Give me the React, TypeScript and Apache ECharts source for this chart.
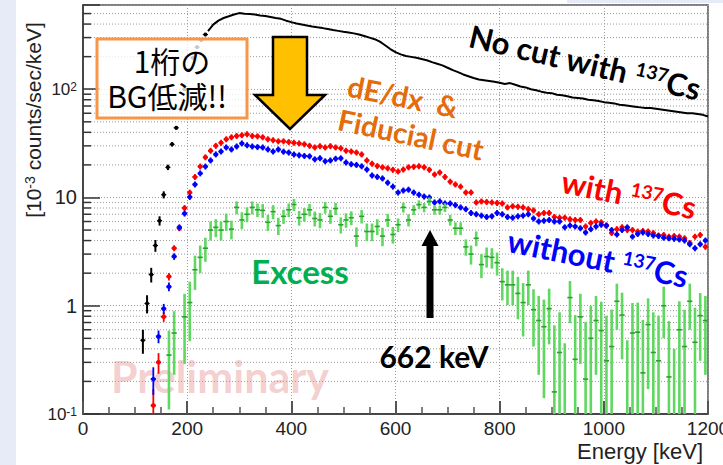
import React, { useEffect, useRef } from 'react';
import * as echarts from 'echarts';

// ---------- data ----------
const binStart = 135;
const binWidth = 10;

const withCsVals = [
  0.12, 0.30, 0.79, 1.86, 3.4, 5.2, 8.0, 11.1, 15.5, 19.3,
  23.5, 27, 30, 32, 34.5, 36, 37, 37.6, 38.4, 37,
  36.7, 36, 34.5, 33.8, 33, 33, 32.5, 32, 31.6, 31,
  30, 29, 29.8, 29, 29.8, 29, 28.5, 27, 26.6, 26,
  25, 22, 20.5, 19.5, 19, 18.6, 18, 17.4, 18.1, 19,
  19.2, 19.4, 19, 18, 16.3, 17, 15.5, 14, 13.2, 12.6,
  11.1, 11.1, 9.0, 9.2, 9.1, 9.0, 8.9, 8.8, 8.1, 8.3,
  8.2, 8.1, 7.8, 7.6, 7.0, 7.2, 7.2, 6.6, 6.5, 6.5,
  6.3, 6.2, 6.2, 5.4, 5.8, 6.0, 5.9, 5.5, 4.7, 5.1,
  5.3, 5.0, 5.0, 4.85, 4.9, 4.85, 4.7, 4.45, 4.5, 4.35,
  4.4, 4.35, 4.2, 3.8, 4.35, 4.5, 3.5,
];
const withCsLowErr = [0.05, 0.065, 0.08, 0.15, 0.2, 0.25];

const withoutCsVals = [
  0.21, 0.52, 0.94, 1.5, 2.85, 5.3, 7.1, 10.1, 13.2, 16.7,
  19.3, 22, 25, 26.6, 29, 27.8, 29.6, 31.6, 30.3, 29.6,
  29.2, 29, 27.8, 26.6, 27.8, 26.5, 26, 25, 24.5, 24.2,
  24, 22.5, 23, 21.6, 22, 22.8, 23, 21, 20.3, 20,
  19.4, 18.1, 16, 15.5, 15, 13.7, 12.6, 11.1, 11.6, 11.8,
  11.1, 10.6, 10.2, 10, 9.0, 9.2, 8.8, 8.8, 8.5, 8.1,
  7.8, 7.2, 7.0, 6.8, 6.6, 6.7, 7.2, 7.0, 6.6, 6.5,
  6.7, 6.8, 7.0, 6.4, 6.0, 6.1, 6.2, 6.0, 6.0, 5.3,
  5.5, 5.4, 5.2, 4.75, 5.1, 5.4, 5.6, 5.5, 5.0, 4.55,
  5.0, 5.3, 4.35, 4.6, 4.75, 4.6, 4.45, 4.4, 4.25, 4.2,
  4.15, 4.1, 4.0, 3.7, 3.4, 3.7, 4.0,
];
const withoutCsLowErr = [0.06, 0.07, 0.1, 0.14, 0.2, 0.25];

const excessEnergy = [
  165, 175, 195, 205, 215, 225, 235, 245, 255, 265, 275, 285, 295, 305, 315, 325, 335, 345, 355, 365,
  375, 385, 395, 405, 415, 425, 435, 445, 455, 465, 475, 485, 495, 505, 515, 525, 535, 545, 555, 565,
  575, 585, 595, 605, 615, 625, 635, 645, 655, 665, 675, 685, 695, 705, 715, 725, 735, 745, 755, 765,
  775, 785, 795, 805, 815, 825, 835, 845, 855, 865, 875, 885, 895, 905, 915, 925, 935, 945, 955, 965,
  975, 985, 995, 1005, 1015, 1025, 1035, 1045, 1055, 1065, 1075, 1085, 1095, 1105, 1115, 1125, 1135, 1145, 1155, 1165,
  1175, 1185, 1195,
];
const excessVals = [
  0.35, 0.56, 0.79, 1.07, 2.15, 2.8, 3.4, 5.0, 5.3, 5.0, 6.0, 5.1, 8.1, 6.2, 7.0, 8.1, 7.7, 7.6, 5.9, 7.4,
  5.5, 6.7, 7.7, 8.6, 6.5, 7.0, 7.7, 6.4, 6.2, 8.1, 6.7, 7.9, 5.6, 6.2, 6.5, 4.4, 6.7, 4.85, 4.85, 5.4,
  4.4, 6.2, 4.55, 5.6, 8.1, 6.2, 7.7, 8.6, 8.1, 9.2, 7.7, 7.7, 8.1, 6.2, 5.2, 5.2, 3.5, 3.0, 4.2, 2.4,
  2.85, 2.8, 2.5, 1.67, 1.56, 1.56, 1.3, 1.07, 1.56, 0.92, 0.73, 0.64, 0.94, 0.16, 0.37, -0.05, 1.19, 0.32, 0.79, 0.21,
  0.5, 0.73, 0.59, 0.31, 0.42, 1.1, 0.82, -0.02, 0.56, 0.57, 0.24, 0.67, 0.37, 0.31, 1.0, 0.22, -0.1, 0.6, 0.42, 1.1,
  0.46, 0.81, 0.73,
];
const excessErr = [
  0.24, 0.33, 0.5, 0.6, 0.75, 0.8, 0.85, 1.0, 1.0, 1.0, 1.1, 1.0, 1.1, 1.1, 1.1, 1.1, 1.1, 1.1, 1.0, 1.1,
  1.0, 1.0, 1.1, 1.1, 1.0, 1.0, 1.0, 1.0, 1.0, 1.0, 1.0, 1.0, 0.95, 0.95, 0.95, 0.9, 0.95, 0.9, 0.9, 0.9,
  0.85, 0.85, 0.8, 0.8, 0.85, 0.8, 0.8, 0.8, 0.8, 0.8, 0.75, 0.75, 0.75, 0.7, 0.7, 0.7, 0.6, 0.6, 0.65, 0.6,
  0.6, 0.6, 0.6, 0.55, 0.55, 0.55, 0.55, 0.55, 0.55, 0.5, 0.5, 0.5, 0.5, 0.5, 0.5, 0.5, 0.5, 0.5, 0.5, 0.5,
  0.5, 0.5, 0.5, 0.5, 0.5, 0.5, 0.5, 0.5, 0.5, 0.5, 0.5, 0.5, 0.5, 0.5, 0.5, 0.5, 0.5, 0.5, 0.5, 0.5,
  0.5, 0.5, 0.5,
];

const noCutLowEnergy = [115, 123, 131, 139, 147, 155, 163, 171, 179, 187, 195, 203, 211, 219, 227, 235];
const noCutLowVals = [0.48, 1.05, 1.94, 3.6, 6.1, 10.6, 19, 31, 44, 65, 100, 150, 195, 245, 285, 320];
const noCutLowErr = [0.12, 0.2, 0.3, 0.45, 0.6, 0.8, 1.1, 1.4, 1.7, 2, 2.5, 3, 3.5, 4, 4.2, 4.5];

const noCutLineStart = 240;
const noCutLineVals = [
  345, 395, 430, 455, 472, 490, 505, 498, 495, 490,
  480, 474, 465, 455, 447, 430, 417, 405, 397, 388,
  380, 373, 367, 360, 352, 346, 340, 335, 328, 320,
  310, 300, 290, 275, 255, 235, 220, 210, 203, 199,
  195, 190, 185, 178, 172, 166, 158, 150, 144, 137,
  132, 127, 123, 121, 119, 117, 115, 112, 114, 110,
  106, 104, 100, 98, 95, 93, 92, 89, 88, 86,
  84, 83, 82, 80, 79, 78, 76, 75, 74, 72,
  71, 70, 69, 68, 67, 67, 66, 65, 64, 63,
  62, 61, 60, 60, 59, 58, 56,
];

const xTickValues = [0, 200, 400, 600, 800, 1000, 1200];
const yMinorTicks = [
  0.2, 0.3, 0.4, 0.5, 0.6, 0.7, 0.8, 0.9,
  2, 3, 4, 5, 6, 7, 8, 9,
  20, 30, 40, 50, 60, 70, 80, 90,
  200, 300, 400, 500,
];

// ---------- helpers ----------
const X_MIN = xTickValues[0];
const X_MAX = xTickValues[xTickValues.length - 1];
const Y_MIN = 0.1;
const Y_MAX = 600;

function makeErrRenderer(opts: {
  bar: string; mark: string; barWidth: number; markWidth: number; dot: number; minPx: number;
}) {
  return (params: any, api: any) => {
    const e = api.value(0);
    const v = api.value(1);
    const err = api.value(2) || 0;
    const bottomY = api.coord([e, Y_MIN])[1];
    const children: any[] = [];
    const hasCenter = v > 0;
    const cx = api.coord([e, Y_MIN])[0];
    const cy = hasCenter ? api.coord([e, v])[1] : bottomY;
    let top = hasCenter ? cy - opts.minPx : bottomY;
    let bottom = hasCenter ? cy + opts.minPx : bottomY;
    if (err > 0) {
      const hi = api.coord([e, v + err])[1];
      top = Math.min(top, hi);
      const lo = v - err > Y_MIN ? api.coord([e, v - err])[1] : bottomY;
      bottom = Math.max(bottom, lo);
    }
    children.push({
      type: 'line',
      shape: { x1: cx, y1: top, x2: cx, y2: bottom },
      style: { stroke: opts.bar, lineWidth: opts.barWidth },
    });
    if (hasCenter) {
      const l = api.coord([e - binWidth / 2, v])[0];
      const r = api.coord([e + binWidth / 2, v])[0];
      children.push({
        type: 'line',
        shape: { x1: l, y1: cy, x2: r, y2: cy },
        style: { stroke: opts.mark, lineWidth: opts.markWidth },
      });
      if (opts.dot > 0) {
        children.push({
          type: 'circle',
          shape: { cx, cy, r: opts.dot },
          style: { fill: opts.mark },
        });
      }
    }
    return { type: 'group', children };
  };
}

const supLabel = (base: string, exp: string) => `{b|${base}}{s|${exp}}`;

export default function App() {
  const ref = useRef<HTMLDivElement>(null);

  useEffect(() => {
    document.body.style.margin = '0';
    if (!ref.current) return;
    const chart = echarts.init(ref.current, undefined, { renderer: 'svg' });

    const withCsData = withCsVals.map((v, i) => [binStart + i * binWidth, v, withCsLowErr[i] || 0]);
    const withoutCsData = withoutCsVals.map((v, i) => [binStart + i * binWidth, v, withoutCsLowErr[i] || 0]);
    const excessData = excessEnergy.map((e, i) => [e, excessVals[i], excessErr[i], excessVals[i] + excessErr[i]]);
    const noCutLowData = noCutLowEnergy.map((e, i) => [e, noCutLowVals[i], noCutLowErr[i]]);
    const noCutLineData = noCutLineVals.map((v, i) => [noCutLineStart + i * binWidth, v]);
    const gridData = yMinorTicks.map((v) => [X_MIN, v]);

    const axisFont = 'Liberation Sans, Arial, sans-serif';
    const boldFont = 'Lato, "Open Sans", sans-serif';

    const centered = {
      align: 'center',
      verticalAlign: 'middle',
      textAlign: 'center',
      textVerticalAlign: 'middle',
    };

    const csRich = (color: string) => ({
      m: { fontSize: 31, fontWeight: 'bold', fontFamily: boldFont, fill: color, color, verticalAlign: 'bottom' },
      s: { fontSize: 19, fontWeight: 'bold', fontFamily: boldFont, fill: color, color, verticalAlign: 'top' },
    });

    const option: any = {
      animation: false,
      backgroundColor: '#ffffff',
      grid: {
        left: 83,
        right: 15,
        top: 5,
        bottom: 51,
        containLabel: false,
        outerBoundsMode: 'none',
        show: true,
        backgroundColor: '#ffffff',
        borderColor: '#555',
        borderWidth: 1.5,
      },
      xAxis: {
        type: 'value',
        min: X_MIN,
        max: X_MAX,
        interval: 200,
        axisLine: { show: true, onZero: false, lineStyle: { color: '#333', width: 1.5 } },
        axisTick: { show: true, inside: true, length: 13, lineStyle: { color: '#555', width: 2 } },
        minorTick: { show: true, splitNumber: 4, length: 7, lineStyle: { color: '#555', width: 1.5 } },
        splitLine: { show: true, lineStyle: { color: '#9a9a9a', width: 1, type: [1, 2] } },
        axisLabel: {
          color: '#222',
          fontSize: 19,
          fontFamily: axisFont,
          margin: 5,
          formatter: (v: number) => String(v),
        },
      },
      yAxis: {
        type: 'log',
        logBase: 10,
        min: Y_MIN,
        max: Y_MAX,
        axisLine: { show: true, lineStyle: { color: '#333', width: 1.5 } },
        axisTick: { show: true, inside: true, length: 17, lineStyle: { color: '#333', width: 1.5 } },
        splitLine: { show: true, lineStyle: { color: '#9a9a9a', width: 1, type: [1, 2] } },
        axisLabel: {
          margin: 6,
          color: '#222',
          fontFamily: axisFont,
          formatter: (v: number) => {
            if (Math.abs(v - 0.1) < 1e-6) return supLabel('10', '-1');
            if (Math.abs(v - 1) < 1e-6) return '{n|1}';
            if (Math.abs(v - 10) < 1e-6) return '{n|10}';
            if (Math.abs(v - 100) < 1e-4) return supLabel('10', '2');
            return '';
          },
          rich: {
            n: { fontSize: 20, fontFamily: axisFont, color: '#222' },
            b: { fontSize: 17, fontFamily: axisFont, color: '#222', verticalAlign: 'bottom' },
            s: { fontSize: 12, fontFamily: axisFont, color: '#222', verticalAlign: 'top' },
          },
        },
      },
      series: [
        {
          type: 'custom',
          name: 'yGrid',
          silent: true,
          data: gridData,
          encode: { x: 0, y: 1 },
          renderItem: (params: any, api: any) => {
            const v = api.value(1);
            const p0 = api.coord([X_MIN, v]);
            const p1 = api.coord([X_MAX, v]);
            return {
              type: 'group',
              children: [
                {
                  type: 'line',
                  shape: { x1: p0[0] + 8, y1: p0[1], x2: p1[0], y2: p1[1] },
                  style: { stroke: '#9a9a9a', lineWidth: 1, lineDash: [1, 2] },
                },
                {
                  type: 'line',
                  shape: { x1: p0[0], y1: p0[1], x2: p0[0] + 8, y2: p0[1] },
                  style: { stroke: '#333', lineWidth: 1.5 },
                },
              ],
            };
          },
          z: 1,
        },
        {
          type: 'line',
          name: 'No cut with 137Cs',
          data: noCutLineData,
          showSymbol: false,
          symbol: 'none',
          lineStyle: { color: '#000', width: 2 },
          clip: true,
          z: 2,
        },
        {
          type: 'custom',
          name: 'No cut low',
          data: noCutLowData,
          encode: { x: 0, y: 1 },
          clip: true,
          renderItem: makeErrRenderer({ bar: '#000', mark: '#000', barWidth: 2, markWidth: 1, dot: 2, minPx: 1.5 }),
          z: 2,
        },
        {
          type: 'custom',
          name: 'with 137Cs',
          data: withCsData,
          encode: { x: 0, y: 1 },
          clip: true,
          renderItem: makeErrRenderer({ bar: '#ff0000', mark: '#ff0000', barWidth: 1.8, markWidth: 1.8, dot: 2.3, minPx: 3 }),
          z: 3,
        },
        {
          type: 'custom',
          name: 'without 137Cs',
          data: withoutCsData,
          encode: { x: 0, y: 1 },
          clip: true,
          renderItem: makeErrRenderer({ bar: '#0000ff', mark: '#0000ff', barWidth: 1.8, markWidth: 1.8, dot: 2.3, minPx: 3 }),
          z: 4,
        },
        {
          type: 'custom',
          name: 'Excess',
          data: excessData,
          encode: { x: 0, y: 3 },
          clip: true,
          renderItem: makeErrRenderer({ bar: '#5fd85f', mark: '#2e9e2e', barWidth: 2.6, markWidth: 1.6, dot: 0, minPx: 2 }),
          z: 5,
        },
      ],
      graphic: [
        { type: 'rect', z: 0, shape: { x: 0, y: 0, width: 16, height: 465 }, style: { fill: '#e7ebf8' } },
        { type: 'rect', z: 0, shape: { x: 567, y: 0, width: 156, height: 3 }, style: { fill: '#e7ebf8' } },
        {
          type: 'text',
          z: 1,
          x: 220,
          y: 376,
          style: {
            text: 'Preliminary',
            fill: 'rgba(228,140,140,0.42)',
            fontSize: 43,
            fontWeight: 'bold',
            fontFamily: boldFont,
            ...centered,
          },
        },
        {
          type: 'text',
          z: 20,
          x: 33,
          y: 120,
          rotation: Math.PI / 2,
          style: {
            text: '{a|[10}{s|-3}{a| counts/sec/keV]}',
            ...centered,
            rich: {
              a: { fontSize: 21, fontFamily: axisFont, fill: '#222', color: '#222', verticalAlign: 'bottom' },
              s: { fontSize: 14, fontFamily: axisFont, fill: '#222', color: '#222', verticalAlign: 'top' },
            },
          },
        },
        {
          type: 'text',
          z: 20,
          x: 703,
          y: 451,
          style: {
            text: 'Energy [keV]',
            fill: '#222',
            fontSize: 22,
            fontFamily: axisFont,
            align: 'right',
            verticalAlign: 'middle',
            textAlign: 'right',
            textVerticalAlign: 'middle',
          },
        },
        {
          type: 'rect',
          z: 20,
          shape: { x: 97, y: 39, width: 150, height: 79 },
          style: { fill: 'rgba(255,255,255,0.78)', stroke: '#f79646', lineWidth: 3 },
        },
        {
          type: 'text',
          z: 21,
          x: 172,
          y: 60,
          style: {
            text: '{j|1桁の}',
            ...centered,
            rich: {
              j: { fontSize: 30, lineHeight: 28, fontFamily: '"Noto Sans CJK JP", sans-serif', fill: '#000', color: '#000' },
            },
          },
        },
        {
          type: 'text',
          z: 21,
          x: 167,
          y: 95,
          style: {
            text: '{j|BG低減!!}',
            ...centered,
            rich: {
              j: { fontSize: 30, lineHeight: 28, fontFamily: '"Noto Sans CJK JP", sans-serif', fill: '#000', color: '#000' },
            },
          },
        },
        {
          type: 'polygon',
          z: 20,
          shape: {
            points: [
              [273, 37], [307, 37], [307, 95], [325, 95], [290, 129], [255, 95], [273, 95],
            ],
          },
          style: { fill: '#ffc000', stroke: '#000', lineWidth: 2.5 },
        },
        {
          type: 'polygon',
          z: 20,
          shape: {
            points: [
              [430, 230], [438.5, 246], [433.5, 246], [433.5, 318], [426.5, 318], [426.5, 246], [421.5, 246],
            ],
          },
          style: { fill: '#000' },
        },
        {
          type: 'text',
          z: 20,
          x: 403,
          y: 96,
          rotation: -0.2,
          style: {
            text: 'dE/dx  &',
            fill: '#e46c0a',
            fontSize: 29,
            fontWeight: 'bold',
            fontFamily: boldFont,
            ...centered,
          },
        },
        {
          type: 'text',
          z: 20,
          x: 411,
          y: 134,
          rotation: -0.21,
          style: {
            text: 'Fiducial cut',
            fill: '#e46c0a',
            fontSize: 29,
            fontWeight: 'bold',
            fontFamily: boldFont,
            ...centered,
          },
        },
        {
          type: 'text',
          z: 20,
          x: 585,
          y: 62,
          rotation: -0.23,
          style: {
            text: '{m|No cut with }{s|137}{m|Cs}',
            ...centered,
            rich: csRich('#000000'),
          },
        },
        {
          type: 'text',
          z: 20,
          x: 629,
          y: 194,
          rotation: -0.2,
          style: {
            text: '{m|with }{s|137}{m|Cs}',
            ...centered,
            rich: csRich('#ff0000'),
          },
        },
        {
          type: 'text',
          z: 20,
          x: 598,
          y: 258,
          rotation: -0.2,
          style: {
            text: '{m|without }{s|137}{m|Cs}',
            ...centered,
            rich: csRich('#0000ff'),
          },
        },
        {
          type: 'text',
          z: 20,
          x: 300,
          y: 271,
          style: {
            text: 'Excess',
            fill: '#00b050',
            fontSize: 33,
            fontWeight: 'bold',
            fontFamily: boldFont,
            ...centered,
          },
        },
        {
          type: 'text',
          z: 20,
          x: 434,
          y: 356,
          style: {
            text: '662 keV',
            fill: '#000',
            fontSize: 30,
            fontWeight: 'bold',
            fontFamily: boldFont,
            ...centered,
          },
        },
      ],
    };

    chart.setOption(option);
    return () => chart.dispose();
  }, []);

  return <div ref={ref} style={{ width: 723, height: 465 }} />;
}
